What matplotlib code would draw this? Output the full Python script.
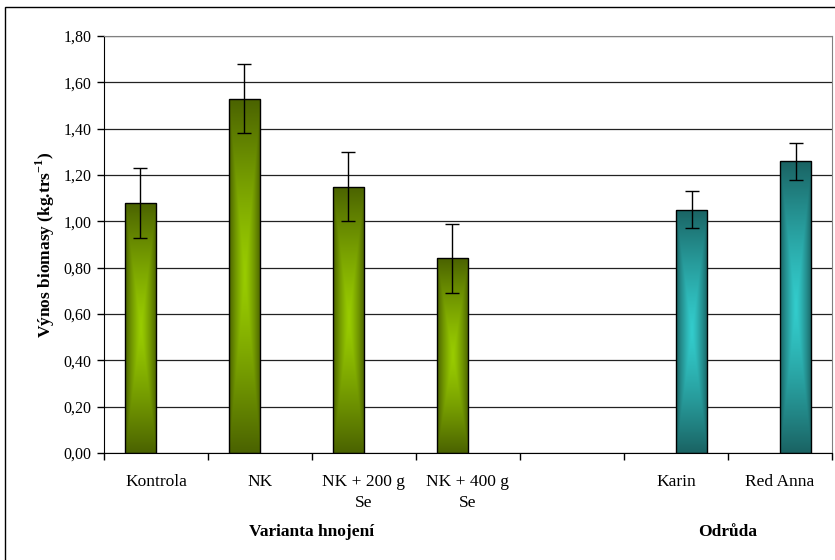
import numpy as np
import matplotlib.pyplot as plt
from matplotlib.patches import Rectangle
from matplotlib.colors import to_rgb

# ================= DATA =================
categories = ['Kontrola', 'NK', 'NK + 200 g\nSe', 'NK + 400 g\nSe', '', 'Karin', 'Red Anna']
hnojeni_pos = [0, 1, 2, 3]
hnojeni_val = [1.08, 1.53, 1.15, 0.84]
hnojeni_err = [0.15, 0.15, 0.15, 0.15]
odruda_pos = [5, 6]
odruda_val = [1.05, 1.26]
odruda_err = [0.08, 0.08]
yticks = [0, 0.2, 0.4, 0.6, 0.8, 1.0, 1.2, 1.4, 1.6, 1.8]

plt.rcParams['font.family'] = ['Liberation Serif', 'DejaVu Serif']

fig = plt.figure(figsize=(8.35, 5.6), dpi=100)
# outer chart border (Excel chart area)
fig.patches.append(Rectangle((5 / 835, -0.1), 1.2, 1 - 7 / 560 + 0.1, transform=fig.transFigure,
                             fill=False, edgecolor='black', lw=1.0))
ax = fig.add_axes([104 / 835, 1 - 453 / 560, 728 / 835, 417 / 560])

w = 0.30


def gradient_fill(bars, dark, light):
    dark = np.array(to_rgb(dark))
    light = np.array(to_rgb(light))
    u = np.linspace(-1, 1, 60)
    v = np.linspace(-1, 1, 300)
    U, V = np.meshgrid(u, v)
    t = np.maximum(np.abs(U), np.abs(V)) ** 1.3
    img = light[None, None, :] * (1 - t[..., None]) + dark[None, None, :] * t[..., None]
    for b in bars:
        x0, y0 = b.get_x(), b.get_y()
        im = ax.imshow(img, extent=[x0, x0 + b.get_width(), y0, y0 + b.get_height()],
                       aspect='auto', zorder=2, interpolation='bilinear')
        im.set_clip_path(b)


b1 = ax.bar(np.array(hnojeni_pos) - w / 2, hnojeni_val, width=w, facecolor='none',
            edgecolor='black', lw=1.0, zorder=3)
b2 = ax.bar(np.array(odruda_pos) + w / 2, odruda_val, width=w, facecolor='none',
            edgecolor='black', lw=1.0, zorder=3)
gradient_fill(b1, '#4a6200', '#99cc00')
gradient_fill(b2, '#1a6363', '#33cccc')

ax.errorbar(np.array(hnojeni_pos) - w / 2, hnojeni_val, yerr=hnojeni_err, fmt='none',
            ecolor='black', elinewidth=1.0, capsize=5, capthick=1.0, zorder=4)
ax.errorbar(np.array(odruda_pos) + w / 2, odruda_val, yerr=odruda_err, fmt='none',
            ecolor='black', elinewidth=1.0, capsize=5, capthick=1.0, zorder=4)

ax.set_xlim(-0.5, len(categories) - 0.5)
ax.set_ylim(0, 1.8)
ax.set_yticks(yticks)
ax.set_yticklabels([f'{y:.2f}'.replace('.', ',') for y in yticks], fontsize=11.5)
ax.yaxis.grid(True, color='#222222', lw=0.9)
ax.set_axisbelow(True)

ax.set_xticks(np.arange(-0.5, len(categories)))
ax.set_xticklabels([])
ax.set_xticks(np.arange(len(categories)), minor=True)
ax.set_xticklabels(categories, minor=True, fontsize=12.5, linespacing=1.4)
ax.tick_params(axis='x', which='minor', length=0, pad=15)
ax.tick_params(axis='x', which='major', length=5, direction='out', width=1)
ax.tick_params(axis='y', length=5, direction='out', width=1, pad=4)

ax.spines['left'].set_color('black')
ax.spines['bottom'].set_color('black')
ax.spines['top'].set_color('#808080')
ax.spines['right'].set_color('#808080')

ax.set_ylabel('Výnos biomasy (kg.trs$^{\\mathregular{-1}}$)', fontsize=12.5, fontweight='bold', labelpad=5)

ax.text(1.5, -0.19, 'Varianta hnojení', fontsize=12.5, fontweight='bold', ha='center', va='center',
        transform=ax.get_xaxis_transform())
ax.text(5.5, -0.19, 'Odrůda', fontsize=12.5, fontweight='bold', ha='center', va='center',
        transform=ax.get_xaxis_transform())

fig.savefig('out.png', dpi=100)
